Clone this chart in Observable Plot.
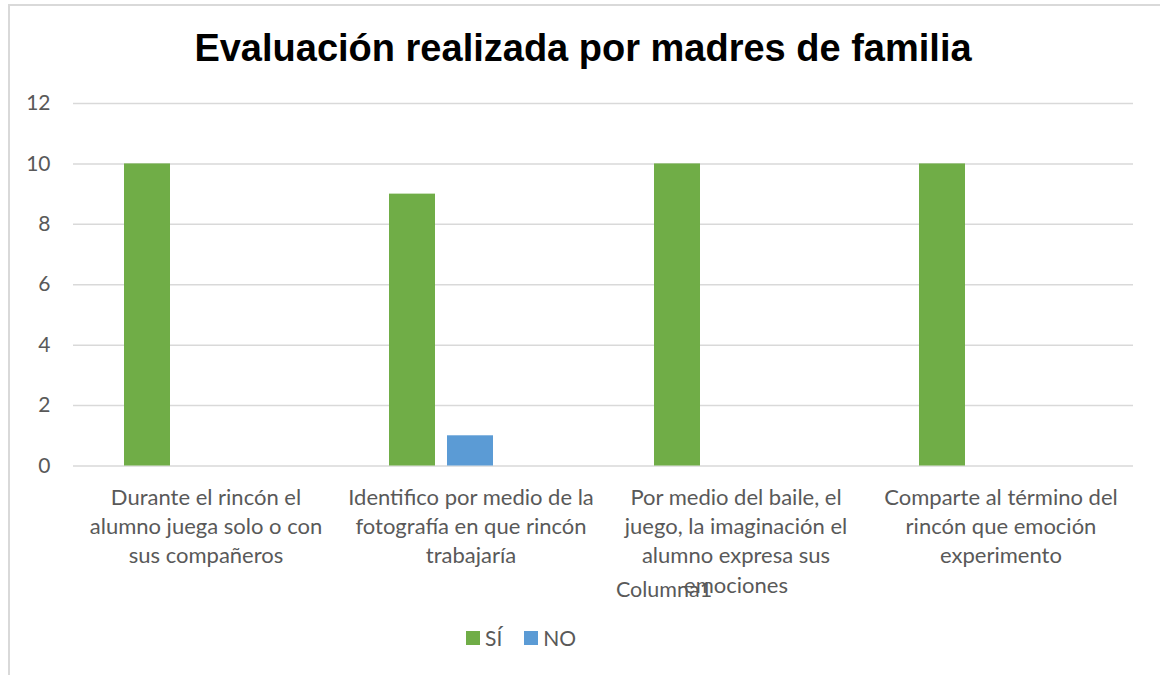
<!DOCTYPE html>
<html>
<head>
<meta charset="utf-8">
<script src="https://cdn.jsdelivr.net/npm/d3@7"></script>
<script src="https://cdn.jsdelivr.net/npm/@observablehq/plot@0.6"></script>
<style>
  body { margin: 0; background: #fff; }
  #wrap { position: relative; width: 1160px; height: 675px; overflow: hidden; background: #fff; font-family: Lato, "Open Sans", sans-serif; color: #595959; }
  #frame { position: absolute; left: 8px; top: 4px; width: 1300px; height: 800px; border: 2px solid #d9d9d9; box-sizing: border-box; }
  #title { position: absolute; left: 3px; top: 26px; width: 1160px; text-align: center; font-family: "Liberation Sans", Arial, sans-serif; font-weight: bold; font-size: 38px; line-height: 44px; color: #000; }
  #chart { position: absolute; left: 0; top: 88px; }
  #axisTitle { position: absolute; left: 564px; width: 200px; top: 576px; text-align: center; font-size: 21.5px; line-height: 26px; }
  #legend { position: absolute; left: 466px; top: 625px; display: flex; align-items: center; font-size: 21px; line-height: 26px; }
  .sw { width: 14px; height: 14px; display: inline-block; margin-right: 5px; }
  .item { display: flex; align-items: center; margin-right: 22px; }
</style>
</head>
<body>
<div id="wrap">
  <div id="frame"></div>
  <div id="title">Evaluación realizada por madres de familia</div>
  <div id="chart"></div>
  <div id="axisTitle">Columna1</div>
  <div id="legend"></div>
</div>
<script>
const categories = [
  "Durante el rincón el\nalumno juega solo o con\nsus compañeros",
  "Identifico por medio de la\nfotografía en que rincón\ntrabajaría",
  "Por medio del baile, el\njuego, la imaginación el\nalumno expresa sus\nemociones",
  "Comparte al término del\nrincón que emoción\nexperimento"
];
const seriesNames = ["SÍ", "NO", "Columna1"];
const siValues = [10, 9, 10, 10];
const noValues = [0, 1, 0, 0];
const yTicks = [0, 2, 4, 6, 8, 10, 12];
const colors = ["#70AD47", "#5B9BD5", "#A5A5A5"];
const legendSeries = ["SÍ", "NO"];

const data = [];
categories.forEach((c, i) => {
  data.push({category: c, series: "SÍ", value: siValues[i]});
  data.push({category: c, series: "NO", value: noValues[i]});
});

const chart = Plot.plot({
  width: 1160,
  height: 520,
  marginTop: 15,
  marginBottom: 142.5,
  marginLeft: 73,
  marginRight: 27,
  style: {fontFamily: "Lato, 'Open Sans', sans-serif", fontSize: "20px", color: "#595959", background: "transparent"},
  fx: {domain: categories, padding: 0, axis: null},
  x: {domain: seriesNames, paddingInner: 0.2, paddingOuter: 0.85, axis: null},
  y: {domain: [0, 12], ticks: yTicks},
  color: {domain: seriesNames, range: colors},
  marks: [
    Plot.gridY(yTicks, {stroke: "#d9d9d9", strokeOpacity: 1, strokeWidth: 1.5}),
    Plot.axisY(yTicks, {tickSize: 0, tickPadding: 23, fontSize: 21, fill: "#595959", label: null}),
    Plot.barY(data, {fx: "category", x: "series", y: "value", fill: "series"}),
    Plot.text(categories, {fx: d => d, text: d => d, frameAnchor: "bottom", lineAnchor: "top", dy: 18, lineHeight: 1.33, fontSize: 22, fill: "#595959"})
  ]
});
document.getElementById("chart").appendChild(chart);

const legend = document.getElementById("legend");
legendSeries.forEach(s => {
  const item = document.createElement("div");
  item.className = "item";
  const sw = document.createElement("span");
  sw.className = "sw";
  sw.style.background = colors[seriesNames.indexOf(s)];
  const t = document.createElement("span");
  t.textContent = s;
  item.appendChild(sw);
  item.appendChild(t);
  legend.appendChild(item);
});
</script>
</body>
</html>
